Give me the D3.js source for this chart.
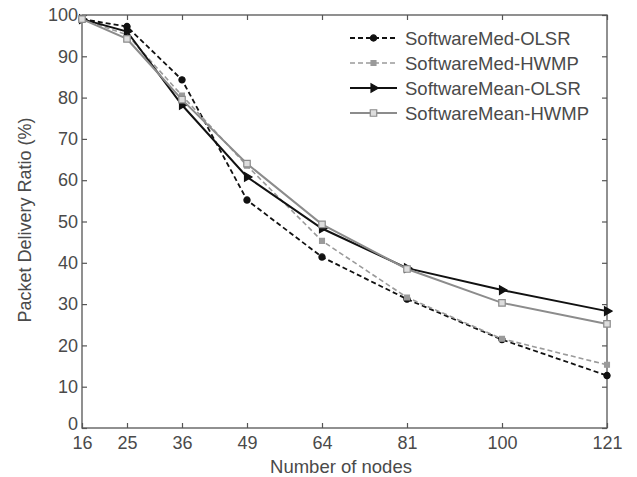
<!DOCTYPE html>
<html><head><meta charset="utf-8">
<script src="https://cdn.jsdelivr.net/npm/d3@7"></script>
<style>body{margin:0;background:#fff}svg{display:block}text{font-family:"Liberation Sans",Arial,sans-serif}</style>
</head><body>
<svg id="c" width="637" height="477"></svg>
<script>
const nodes = [16, 25, 36, 49, 64, 81, 100, 121];
const yTicks = [0, 10, 20, 30, 40, 50, 60, 70, 80, 90, 100];
const seriesNames = ["SoftwareMed-OLSR", "SoftwareMed-HWMP", "SoftwareMean-OLSR", "SoftwareMean-HWMP"];
const medOLSR  = [99, 97.2, 84.3, 55.2, 41.4, 31.2, 21.4, 12.7];
const medHWMP  = [99, 95.2, 80.5, 63.5, 45.3, 31.6, 21.6, 15.3];
const meanOLSR = [99, 96.0, 78.2, 60.8, 48.3, 38.7, 33.4, 28.3];
const meanHWMP = [99, 94.2, 79.5, 64.0, 49.3, 38.5, 30.3, 25.2];

const svg = d3.select("#c");
const x = d3.scaleLinear().domain([16, 121]).range([82, 607]);
const y = d3.scaleLinear().domain([0, 100]).range([428, 15]);
const axisCol = "#555", textCol = "#4a4a4a";

const g = svg.append("g");
g.append("rect").attr("x", x(16)).attr("y", y(100)).attr("width", x(121)-x(16)).attr("height", y(0)-y(100))
 .attr("fill", "none").attr("stroke", axisCol).attr("stroke-width", 1.3);

function styleAxis(sel){ sel.select(".domain").remove(); sel.selectAll("line").attr("stroke", axisCol).attr("stroke-width",1.2);
  sel.selectAll("text").attr("fill", textCol).style("font-size","18px"); }
g.append("g").attr("transform",`translate(0,${y(0)})`)
 .call(d3.axisBottom(x).tickValues(nodes).tickSizeInner(-5).tickSizeOuter(0).tickPadding(8))
 .call(styleAxis);
g.append("g").attr("transform",`translate(0,${y(100)})`)
 .call(d3.axisTop(x).tickValues(nodes).tickSizeInner(-5).tickSizeOuter(0).tickFormat(""))
 .call(styleAxis);
const yl = g.append("g").attr("transform",`translate(${x(16)},0)`)
 .call(d3.axisLeft(y).tickValues(yTicks).tickSizeInner(-5).tickSizeOuter(0).tickPadding(4))
 .call(styleAxis);
yl.selectAll(".tick").filter(d=>d===0).select("text").attr("dy","0.1em");
g.append("g").attr("transform",`translate(${x(121)},0)`)
 .call(d3.axisRight(y).tickValues(yTicks).tickSizeInner(-5).tickSizeOuter(0).tickFormat(""))
 .call(styleAxis);

svg.append("text").attr("x", 341).attr("y", 473).attr("text-anchor","middle")
 .attr("fill", textCol).style("font-size","18.5px").text("Number of nodes");
svg.append("text").attr("transform",`translate(31,220) rotate(-90)`).attr("text-anchor","middle")
 .attr("fill", textCol).style("font-size","18px").text("Packet Delivery Ratio (%)");

const styles = [
  {data: medOLSR, color:"#111", dash:"5,3", width:1.8, marker:"diamond", fill:"#111"},
  {data: medHWMP, color:"#9a9a9a", dash:"5,3", width:1.6, marker:"square", fill:"#9a9a9a"},
  {data: meanOLSR, color:"#111", dash:null, width:2, marker:"tri", fill:"#111"},
  {data: meanHWMP, color:"#8c8c8c", dash:null, width:2, marker:"square", fill:"#ddd"}
];
const line = d3.line().x((d,i)=>x(nodes[i])).y(d=>y(d));
function marker(sel, s, cx, cy){
  let sym;
  if (s.marker==="diamond") sym = d3.symbol(d3.symbolCircle, 30);
  else if (s.marker==="square") sym = d3.symbol(d3.symbolSquare, s.fill==="#ddd"?42:24);
  else sym = d3.symbol(d3.symbolTriangle, 32);
  sel.append("path").attr("d", sym()).attr("transform", `translate(${cx},${cy})` + (s.marker==="tri"?" rotate(90)":""))
   .attr("fill", s.fill).attr("stroke", s.color).attr("stroke-width", 1.2);
}
styles.forEach(s=>{
  const sg = svg.append("g");
  sg.append("path").datum(s.data).attr("d", line).attr("fill","none").attr("stroke", s.color)
    .attr("stroke-width", s.width).attr("stroke-dasharray", s.dash);
  s.data.forEach((d,i)=>marker(sg, s, x(nodes[i]), y(d)));
});

const lg = svg.append("g");
seriesNames.forEach((name,i)=>{
  const s = styles[i], ly = 38 + i*25;
  lg.append("line").attr("x1",350).attr("x2",397).attr("y1",ly).attr("y2",ly)
    .attr("stroke", s.color).attr("stroke-width", s.width).attr("stroke-dasharray", s.dash);
  marker(lg, s, 373.5, ly);
  lg.append("text").attr("x",405).attr("y",ly+6.5).attr("fill", textCol).style("font-size","18.5px").text(name);
});
</script>
</body></html>
